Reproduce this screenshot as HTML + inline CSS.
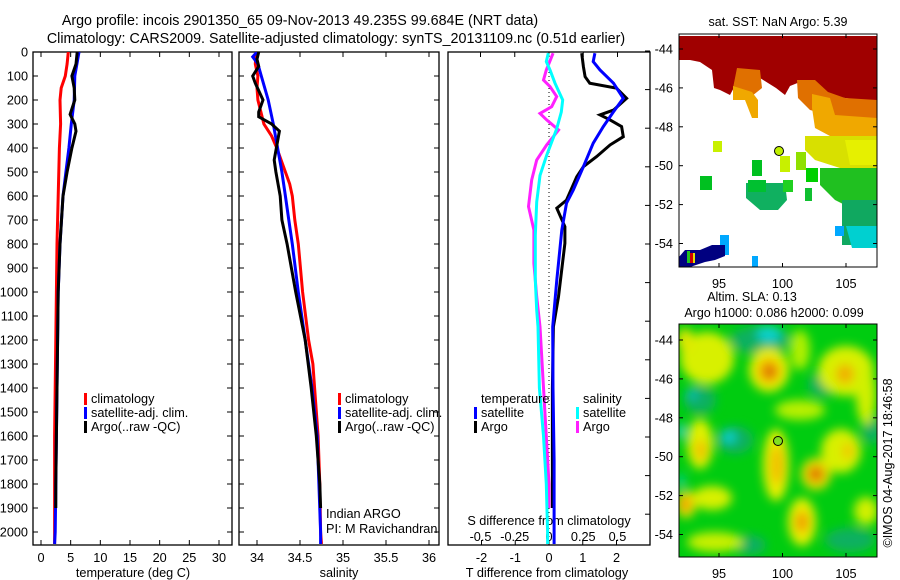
<!DOCTYPE html>
<html><head><meta charset="utf-8"><style>
html,body{margin:0;padding:0;background:#fff;width:900px;height:580px;overflow:hidden}
svg text{font-family:"Liberation Sans",sans-serif;fill:#000}
</style></head><body>
<svg id="fig" width="900" height="580" viewBox="0 0 900 580" xmlns="http://www.w3.org/2000/svg">
<defs>
<filter id="blur" x="-20%" y="-20%" width="140%" height="140%"><feGaussianBlur stdDeviation="5"/></filter>
<clipPath id="clipTop"><rect x="679" y="34" width="198" height="233"/></clipPath>
<clipPath id="clipBot"><rect x="679" y="324" width="198" height="233"/></clipPath>
<clipPath id="clipP1"><rect x="33" y="52" width="199" height="493"/></clipPath>
<clipPath id="clipP2"><rect x="239" y="52" width="200" height="493"/></clipPath>
<clipPath id="clipP3"><rect x="448" y="52" width="202" height="493"/></clipPath>
</defs>
<text x="300" y="25" font-size="14.3" text-anchor="middle">Argo profile: incois 2901350_65 09-Nov-2013 49.235S 99.684E (NRT data)</text>
<text x="336" y="43" font-size="14.3" text-anchor="middle">Climatology: CARS2009. Satellite-adjusted climatology: synTS_20131109.nc (0.51d earlier)</text>

<!-- SST map -->
<g clip-path="url(#clipTop)">
<rect x="679" y="34" width="198" height="233" fill="#fff"/>
<polygon fill="#a00000" points="679,36 877,36 877,102 860,100 845,98 830,95 815,90 800,82 790,86 785,95 776,88 760,78 745,74 738,80 730,95 720,90 714,88 712,70 700,62 690,60 679,60"/>
<polygon fill="#e07000" points="737,68 760,70 762,88 752,96 740,94 733,88"/>
<polygon fill="#f0a800" points="733,86 752,92 758,100 758,118 752,118 745,100 733,100"/>
<polygon fill="#e07000" points="797,80 815,80 828,92 845,98 877,100 877,118 840,118 810,110 798,98"/>
<polygon fill="#f0a800" points="812,94 830,98 835,115 877,118 877,136 830,136 815,128 812,108"/>
<polygon fill="#d8e000" points="805,136 877,136 877,168 840,168 815,160 805,150"/>
<polygon fill="#e6f000" points="845,140 877,140 877,165 850,165"/>
<polygon fill="#20c020" points="820,168 877,168 877,205 845,205 835,200 820,185"/>
<polygon fill="#10a860" points="842,200 877,200 877,245 842,245"/>
<polygon fill="#00d0d0" points="846,226 877,226 877,248 852,248"/>
<rect x="835" y="226" width="9" height="10" fill="#00a8ff"/>
<polygon fill="#10b060" points="746,183 785,183 787,200 778,210 760,210 746,198"/>
<rect x="748" y="180" width="18" height="12" fill="#00c030"/>
<rect x="783" y="180" width="10" height="12" fill="#20d020"/>
<rect x="752" y="160" width="10" height="16" fill="#00c020"/>
<rect x="700" y="176" width="12" height="14" fill="#00c020"/>
<rect x="713" y="141" width="9" height="11" fill="#c8f000"/>
<rect x="780" y="156" width="10" height="16" fill="#c8f000"/>
<rect x="796" y="152" width="10" height="18" fill="#90e000"/>
<rect x="806" y="168" width="12" height="14" fill="#00d000"/>
<rect x="805" y="188" width="7" height="13" fill="#10c030"/>
<rect x="720" y="235" width="9" height="20" fill="#00a8ff"/>
<polygon fill="#000080" points="679,257 685,250 700,250 712,245 725,245 725,256 715,260 705,262 690,267 679,267"/>
<rect x="687" y="251" width="3" height="12" fill="#20c020"/>
<rect x="690" y="253" width="3" height="10" fill="#d00000"/>
<rect x="693" y="253" width="2" height="10" fill="#e0e000"/>
<rect x="752" y="256" width="6" height="11" fill="#00a8ff"/>
</g>
<g id="topMapAxes"></g>
<circle cx="779" cy="151" r="4.5" fill="#c0f000" stroke="#000" stroke-width="1"/>
<text x="778" y="26" font-size="12.5" text-anchor="middle">sat. SST: NaN Argo: 5.39</text>

<!-- SLA map -->
<g clip-path="url(#clipBot)">
<rect x="679" y="324" width="198" height="233" fill="#00cc10"/>
<g filter="url(#blur)">
<ellipse cx="760" cy="340" rx="30" ry="14" fill="#10b060"/>
<ellipse cx="700" cy="400" rx="16" ry="14" fill="#10b060"/>
<ellipse cx="735" cy="440" rx="18" ry="14" fill="#10b060"/>
<ellipse cx="822" cy="385" rx="14" ry="12" fill="#10b060"/>
<ellipse cx="872" cy="430" rx="10" ry="14" fill="#10b060"/>
<ellipse cx="850" cy="540" rx="25" ry="12" fill="#10b060"/>
<ellipse cx="750" cy="545" rx="16" ry="10" fill="#10b060"/>
<ellipse cx="707" cy="358" rx="27" ry="26" fill="#d8f000"/>
<ellipse cx="685" cy="340" rx="8" ry="12" fill="#e0e800"/>
<ellipse cx="769" cy="370" rx="20" ry="22" fill="#e8f000"/>
<ellipse cx="769" cy="371" rx="11" ry="12" fill="#f0a000"/>
<ellipse cx="770" cy="372" rx="5" ry="5" fill="#d06000"/>
<ellipse cx="846" cy="371" rx="28" ry="25" fill="#d8f000"/>
<ellipse cx="845" cy="374" rx="9" ry="10" fill="#f0b000"/>
<ellipse cx="866" cy="395" rx="10" ry="30" fill="#d0f000"/>
<ellipse cx="800" cy="350" rx="10" ry="20" fill="#b0f000"/>
<ellipse cx="800" cy="410" rx="25" ry="10" fill="#b8f000"/>
<ellipse cx="776" cy="465" rx="13" ry="36" fill="#e8f000"/>
<ellipse cx="777" cy="465" rx="7" ry="20" fill="#f0c000"/>
<ellipse cx="816" cy="474" rx="15" ry="16" fill="#e8e000"/>
<ellipse cx="816" cy="474" rx="8" ry="8" fill="#e07000"/>
<ellipse cx="841" cy="451" rx="20" ry="22" fill="#d8f000"/>
<ellipse cx="848" cy="451" rx="6" ry="8" fill="#f0c800"/>
<ellipse cx="700" cy="444" rx="13" ry="25" fill="#e0f000"/>
<ellipse cx="701" cy="450" rx="6" ry="10" fill="#f0c000"/>
<ellipse cx="712" cy="498" rx="20" ry="12" fill="#d8f000"/>
<ellipse cx="686" cy="504" rx="10" ry="14" fill="#e8e000"/>
<ellipse cx="685" cy="504" rx="5" ry="7" fill="#f09000"/>
<ellipse cx="802" cy="522" rx="14" ry="24" fill="#e8f000"/>
<ellipse cx="802" cy="522" rx="7" ry="11" fill="#f0a000"/>
<ellipse cx="715" cy="542" rx="28" ry="10" fill="#c8f000"/>
<ellipse cx="866" cy="511" rx="12" ry="14" fill="#d0f000"/>
<ellipse cx="769" cy="334" rx="12" ry="8" fill="#10d0d0"/>
<ellipse cx="692" cy="394" rx="6" ry="6" fill="#10b8b0"/>
<ellipse cx="729" cy="437" rx="7" ry="6" fill="#10d0d0"/>
<ellipse cx="681" cy="431" rx="4" ry="8" fill="#10d0d0"/>
<ellipse cx="681" cy="481" rx="3" ry="7" fill="#10d0d0"/>
</g>
</g>
<g id="botMapAxes"></g>
<circle cx="778" cy="441" r="4.5" fill="#80e020" stroke="#000" stroke-width="1"/>
<text x="752" y="301" font-size="12.5" text-anchor="middle">Altim. SLA: 0.13</text>
<text x="774" y="317" font-size="12.5" text-anchor="middle">Argo h1000: 0.086 h2000: 0.099</text>
<text x="0" y="0" font-size="12.5" text-anchor="middle" transform="translate(892,463) rotate(-90)">©IMOS 04-Aug-2017 18:46:58</text>

<g id="panels"></g>
</svg>
<script>
// ---- data ----
const depthTicks = [0,100,200,300,400,500,600,700,800,900,1000,1100,1200,1300,1400,1500,1600,1700,1800,1900,2000];
const tempTicks = [0,5,10,15,20,25,30];
const salTicks = [34,34.5,35,35.5,36];
const salTickLabels = ["34","34.5","35","35.5","36"];
const tdiffTicks = [-2,-1,0,1,2];
const sdiffTicks = [-0.5,-0.25,0,0.25,0.5];
const sdiffTickLabels = ["-0.5","-0.25","0","0.25","0.5"];

const tClimDepth = [0,50,100,150,200,300,400,500,600,700,800,1000,1200,1400,1600,1800,2000,2050];
const tClimVal   = [4.6,4.4,4.1,3.4,3.2,3.3,3.1,3.0,2.9,2.8,2.7,2.6,2.5,2.4,2.3,2.3,2.3,2.3];
const tSatDepth = [0,100,200,300,400,500,600,800,1000,1200,1400,1600,1800,2000,2050];
const tSatVal   = [6.4,5.7,5.6,5.1,4.7,4.2,3.7,3.2,2.9,2.8,2.7,2.6,2.5,2.4,2.3];
const tArgoDepth = [0,50,100,150,200,260,300,330,400,500,600,800,1000,1200,1400,1600,1800,1900];
const tArgoVal   = [6.1,5.9,5.2,5.6,5.7,4.9,5.7,5.9,5.2,4.4,3.7,3.2,2.9,2.8,2.7,2.6,2.5,2.5];

const sClimDepth = [0,50,100,150,200,300,350,400,500,550,600,700,800,1000,1200,1300,1400,1600,1800,2000,2050];
const sClimVal   = [33.99,33.98,34.01,34.0,34.01,34.08,34.17,34.23,34.33,34.38,34.41,34.44,34.48,34.53,34.6,34.65,34.67,34.71,34.73,34.74,34.75];
const sSatDepth = [0,20,50,100,200,300,400,500,600,700,800,1000,1200,1400,1600,1800,2000,2050];
const sSatVal   = [34.0,33.95,34.01,34.05,34.13,34.19,34.24,34.29,34.33,34.37,34.41,34.48,34.56,34.64,34.7,34.72,34.74,34.74];
const sArgoDepth = [0,30,60,100,130,200,250,270,300,330,450,500,600,700,800,1000,1200,1400,1600,1800,1900];
const sArgoVal   = [34.02,34.0,34.02,33.95,33.98,34.07,34.02,34.02,34.17,34.26,34.2,34.22,34.27,34.29,34.35,34.45,34.56,34.63,34.69,34.73,34.74];

const dtSatDepth = [5,40,75,130,193,249,311,380,478,575,630,742,950,1145,1400,1700,2000,2050];
const dtSatVal   = [1.36,1.31,1.51,1.91,2.2,1.91,1.61,1.31,1.02,0.72,0.52,0.38,0.23,0.11,0.12,0.15,0.15,0.15];
const dtArgoDepth = [5,61,103,130,151,193,242,262,283,311,353,387,436,478,520,617,651,728,797,1019,1145,1400,1700,1900];
const dtArgoVal   = [0.97,1.02,1.07,1.21,2.0,2.3,1.91,1.51,1.81,2.15,2.2,1.81,1.41,1.02,0.82,0.52,0.23,0.47,0.47,0.28,0.13,0.1,0.1,0.1];
const dsSatDepth = [5,40,75,130,200,250,320,430,514,625,764,950,1075,1145,1400,1600,1800,2000,2050];
const dsSatVal   = [-0.005,-0.02,0.007,0.044,0.10,0.09,0.056,-0.017,-0.066,-0.09,-0.10,-0.10,-0.09,-0.08,-0.07,-0.04,-0.02,-0.01,-0.01];
const dsArgoDepth = [5,75,117,144,186,228,256,283,325,387,450,533,644,742,881,1019,1145,1500,1800,1900];
const dsArgoVal   = [0.03,-0.02,-0.04,0.007,0.056,0.02,-0.066,-0.017,0.07,-0.017,-0.09,-0.126,-0.15,-0.11,-0.11,-0.09,-0.066,-0.03,0.0,0.0];

const mapLonTicks = [95,100,105];
const mapLatTicks = [-44,-46,-48,-50,-52,-54];

// ---- scales ----
const TOP=52, BOT=545;
const FS=12.7;
const yD = d => TOP + d*0.24;
const xT = t => 41 + t*5.933;
const xS = s => 257 + (s-34)*86;
const xDT = t => 549 + t*33.75;
const xDS = s => 549 + s*137;
const NS='http://www.w3.org/2000/svg';
const root=document.getElementById('panels');
function mk(tag,attrs,parent){const e=document.createElementNS(NS,tag);for(const k in attrs)e.setAttribute(k,attrs[k]);(parent||root).appendChild(e);return e;}
function txt(s,x,y,size,anchor,parent){const e=mk('text',{x:x,y:y,'font-size':size,'text-anchor':anchor||'middle'},parent);e.textContent=s;return e;}

function line(xs,ys,xf,color,name,clip,w){
  const pts=xs.map((v,i)=>xf(v).toFixed(1)+','+yD(ys[i]).toFixed(1)).join(' ');
  const p=mk('polyline',{points:pts,fill:'none',stroke:color,'stroke-width':w||3,'clip-path':'url(#'+clip+')'});
  
  
}

function frame(x0,x1,name){
  const r=mk('rect',{x:x0,y:TOP,width:x1-x0,height:BOT-TOP,fill:'none',stroke:'#000','stroke-width':1.3});
  
  
}

// panel 1
frame(33,232,'temperature-panel-frame');
depthTicks.forEach(d=>{
  const y=yD(d);
  mk('line',{x1:33,y1:y,x2:38,y2:y,stroke:'#000'});
  mk('line',{x1:232,y1:y,x2:227,y2:y,stroke:'#000'});
  mk('line',{x1:239,y1:y,x2:244,y2:y,stroke:'#000'});
  mk('line',{x1:439,y1:y,x2:434,y2:y,stroke:'#000'});
  const t=txt(String(d),28,y+4.5,FS,'end');
  
  
});
for(let i=0;i<13;i++){const y=51+i*38.6; if(y<BOT) mk('line',{x1:650,y1:y,x2:645,y2:y,stroke:'#000'});}
tempTicks.forEach(t=>{
  const x=xT(t);
  mk('line',{x1:x,y1:BOT,x2:x,y2:BOT-5,stroke:'#000'});
  mk('line',{x1:x,y1:TOP,x2:x,y2:TOP+5,stroke:'#000'});
  const e=txt(String(t),x,562,FS);
  
  
});
const xl1=txt('temperature (deg C)',133,577,FS);


line(tClimVal,tClimDepth,xT,'#ff0000','temp-climatology-line','clipP1');
line(tSatVal,tSatDepth,xT,'#0000ff','temp-satellite-line','clipP1');
line(tArgoVal,tArgoDepth,xT,'#000000','temp-argo-line','clipP1');

// panel 2
frame(239,439,'salinity-panel-frame');
salTicks.forEach((s,i)=>{
  const x=xS(s);
  mk('line',{x1:x,y1:BOT,x2:x,y2:BOT-5,stroke:'#000'});
  mk('line',{x1:x,y1:TOP,x2:x,y2:TOP+5,stroke:'#000'});
  const e=txt(salTickLabels[i],x,562,FS);
  
  
});
const xl2=txt('salinity',339,577,FS);


line(sClimVal,sClimDepth,xS,'#ff0000','sal-climatology-line','clipP2');
line(sSatVal,sSatDepth,xS,'#0000ff','sal-satellite-line','clipP2');
line(sArgoVal,sArgoDepth,xS,'#000000','sal-argo-line','clipP2');
txt('Indian ARGO',326,518,FS,'start');
txt('PI: M Ravichandran',326,533,FS,'start');

// panel 3
frame(448,650,'difference-panel-frame');
mk('line',{x1:549,y1:TOP,x2:549,y2:BOT,stroke:'#000','stroke-width':1,'stroke-dasharray':'1,3'});
tdiffTicks.forEach(t=>{
  const x=xDT(t);
  mk('line',{x1:x,y1:BOT,x2:x,y2:BOT-5,stroke:'#000'});
  const e=txt(String(t),x,562,FS);
  
  
});
sdiffTicks.forEach((s,i)=>{
  const x=xDS(s);
  mk('line',{x1:x,y1:TOP,x2:x,y2:TOP+5,stroke:'#000'});
  const e=txt(sdiffTickLabels[i],x,541,FS);
  
  
});
txt('S difference from climatology',549,525,FS);
const xl3=txt('T difference from climatology',547,577,FS);


line(dsArgoVal,dsArgoDepth,xDS,'#ff20ff','s-diff-argo-line','clipP3');
line(dsSatVal,dsSatDepth,xDS,'#00ffff','s-diff-satellite-line','clipP3');
line(dtArgoVal,dtArgoDepth,xDT,'#000000','t-diff-argo-line','clipP3');
line(dtSatVal,dtSatDepth,xDT,'#0000ff','t-diff-satellite-line','clipP3');

// legends
function legend(x,y,color,label,name){
  const g=mk('g',{});
  
  
  mk('rect',{x:x,y:y-10,width:3,height:12,fill:color},g);
  txt(label,x+7,y,FS,'start',g);
}
legend(84,403,'#ff0000','climatology','legend-entry-climatology');
legend(84,417,'#0000ff','satellite-adj. clim.','legend-entry-satellite');
legend(84,431,'#000000','Argo(..raw -QC)','legend-entry-argo');
legend(338,403,'#ff0000','climatology','legend-entry-climatology');
legend(338,417,'#0000ff','satellite-adj. clim.','legend-entry-satellite');
legend(338,431,'#000000','Argo(..raw -QC)','legend-entry-argo');
txt('temperature',481,403,FS,'start');
txt('salinity',583,403,FS,'start');
legend(474,417,'#0000ff','satellite','legend-entry-t-satellite');
legend(474,431,'#000000','Argo','legend-entry-t-argo');
legend(576,417,'#00ffff','satellite','legend-entry-s-satellite');
legend(576,431,'#ff20ff','Argo','legend-entry-s-argo');

// map axes
function mapAxes(gid,y0,latY0){
  const g=document.getElementById(gid);
  mk('rect',{x:679,y:y0,width:198,height:233,fill:'none',stroke:'#000','stroke-width':1},g);
  mapLonTicks.forEach(l=>{
    const x=719+(l-95)*12.7;
    mk('line',{x1:x,y1:y0,x2:x,y2:y0+4,stroke:'#000'},g);
    mk('line',{x1:x,y1:y0+233,x2:x,y2:y0+229,stroke:'#000'},g);
    txt(String(l),x,y0+254,FS,'middle',g);
  });
  mapLatTicks.forEach(l=>{
    const y=latY0+(-44-l)*19.45;
    mk('line',{x1:679,y1:y,x2:683,y2:y,stroke:'#000'},g);
    mk('line',{x1:877,y1:y,x2:873,y2:y,stroke:'#000'},g);
    txt(String(l),673,y+4.5,FS,'end',g);
  });
}
mapAxes('topMapAxes',34,49);
mapAxes('botMapAxes',324,340);
</script>
</body></html>
